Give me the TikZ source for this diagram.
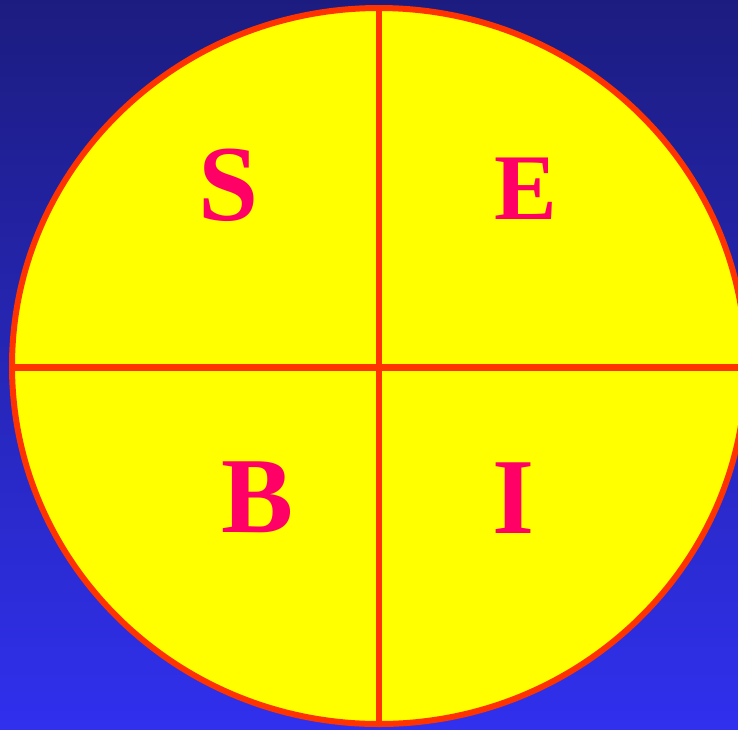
\documentclass[tikz,border=0pt]{standalone}
\usepackage{fontspec}
\setmainfont{Liberation Serif}
\usetikzlibrary{positioning}
\definecolor{navytop}{HTML}{1C1C80}
\definecolor{bluebot}{HTML}{3030EE}
\definecolor{rimred}{HTML}{FF3300}
\definecolor{lettr}{HTML}{FF0066}
\definecolor{discyel}{RGB}{255,255,0}
\tikzset{
  rim/.style={draw=rimred, line width=6pt},
  divider/.style={draw=rimred, line width=6.5pt},
  letter/.style={text=lettr, font=\bfseries\fontsize{108}{108}\selectfont, inner sep=0pt, anchor=base}}

\begin{document}
\begin{tikzpicture}[x=1pt, y=-1pt]
  \useasboundingbox (0,0) rectangle (738,729);
  % background
  \shade[top color=navytop, bottom color=bluebot] (0,0) rectangle (738,729);
  % disc split in four
  \coordinate (ctr) at (379,366);
  \fill[discyel] (ctr) ellipse [x radius=367, y radius=358];
  \begin{scope}
    \clip (ctr) ellipse [x radius=367, y radius=358];
    \draw[divider] (379,0) -- (379,729);
    \draw[divider] (0,367.5) -- (760,367.5);
  \end{scope}
  \draw[rim] (ctr) ellipse [x radius=367, y radius=358];
  % quarters
  \node[letter] (s) at (229,220) {S};
  \node[letter, font=\bfseries\fontsize{94}{94}\selectfont] (e) at (526,219) {E};
  \node[letter] (b) at (257.5,532) {B};
  \node[letter] (i) at (513.5,533) {I};
\end{tikzpicture}
\end{document}
